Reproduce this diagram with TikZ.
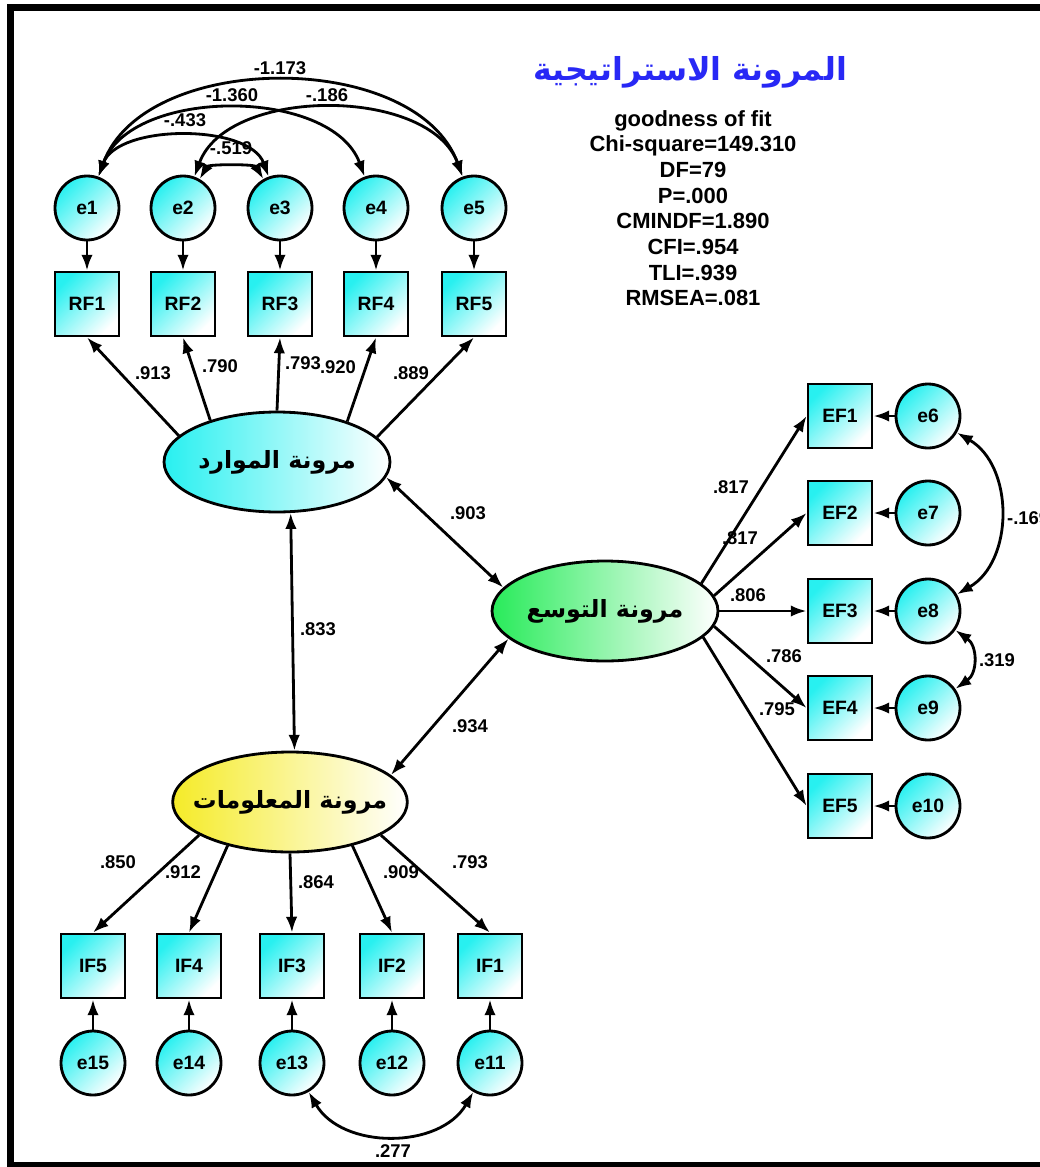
\documentclass[tikz,border=0pt]{standalone}
\usepackage{fontspec}
\setmainfont{Liberation Sans}
\newfontfamily\arabicfont[Script=Arabic]{DejaVu Sans}
\TeXXeTstate=1
\usepackage{tikz}
\usetikzlibrary{shapes.geometric, arrows.meta}
\definecolor{errcyan}{RGB}{40,240,240}
\definecolor{latgreen}{RGB}{40,235,90}
\definecolor{latyellow}{RGB}{245,235,40}
\definecolor{titleblue}{RGB}{40,40,245}
\def\ar#1{{\arabicfont\bfseries\beginR #1\endR}}

\begin{document}
\begin{tikzpicture}[x=0.02cm, y=-0.02cm, line width=1.6pt,
	err/.style={circle, draw, minimum size=1.28cm, inner sep=0pt, top color=errcyan, bottom color=white, shading angle=45, font=\bfseries\fontsize{11}{13}\selectfont},
	obs/.style={rectangle, draw, minimum size=1.28cm, inner sep=0pt, top color=errcyan, bottom color=white, shading angle=45, font=\bfseries\fontsize{11}{13}\selectfont},
	lat/.style={ellipse, draw, minimum width=4.52cm, minimum height=2cm, inner xsep=-8pt, inner ysep=0pt, right color=white, font=\fontsize{13.5}{16}\selectfont},
	val/.style={inner sep=1pt, font=\bfseries\fontsize{10.5}{12}\selectfont},
	arr/.style={-{Latex[length=9pt,width=6.5pt]}},
	cov/.style={{Latex[length=9pt,width=6.5pt]}-{Latex[length=9pt,width=6.5pt]}}]
	\useasboundingbox (0,0) rectangle (1040,1167);
	\draw[line width=4.5pt] (1050,7.5) -- (10.5,7.5) -- (10.5,1166) -- (1050,1166);

	\node[text=titleblue, font=\fontsize{18}{22}\selectfont] (title) at (690,72) {\ar{المرونة الاستراتيجية}};
	\node[anchor=north, align=center, font=\bfseries\fontsize{12.5}{14.6}\selectfont] (fit) at (693,103) {goodness of fit\\Chi-square=149.310\\DF=79\\P=.000\\CMINDF=1.890\\CFI=.954\\TLI=.939\\RMSEA=.081};

	\node[lat, left color=errcyan] (res) at (277,462) {\ar{مرونة الموارد}};
	\node[lat, left color=latgreen] (exp) at (605,611) {\ar{مرونة التوسع}};
	\node[lat, left color=latyellow] (info) at (290,802) {\ar{مرونة المعلومات}};

	\node[err] (e1) at (87,208) {e1};
	\node[err] (e2) at (183,208) {e2};
	\node[err] (e3) at (280,208) {e3};
	\node[err] (e4) at (376,208) {e4};
	\node[err] (e5) at (474,208) {e5};
	\node[obs] (rf1) at (87,304) {RF1};
	\node[obs] (rf2) at (183,304) {RF2};
	\node[obs] (rf3) at (280,304) {RF3};
	\node[obs] (rf4) at (376,304) {RF4};
	\node[obs] (rf5) at (474,304) {RF5};

	\node[obs] (ef1) at (840,416) {EF1};
	\node[obs] (ef2) at (840,513) {EF2};
	\node[obs] (ef3) at (840,611) {EF3};
	\node[obs] (ef4) at (840,708) {EF4};
	\node[obs] (ef5) at (840,806) {EF5};
	\node[err] (e6) at (928,416) {e6};
	\node[err] (e7) at (928,513) {e7};
	\node[err] (e8) at (928,611) {e8};
	\node[err] (e9) at (928,708) {e9};
	\node[err] (e10) at (928,806) {e10};

	\node[obs] (if5) at (93,966) {IF5};
	\node[obs] (if4) at (189,966) {IF4};
	\node[obs] (if3) at (292,966) {IF3};
	\node[obs] (if2) at (392,966) {IF2};
	\node[obs] (if1) at (490,966) {IF1};
	\node[err] (e15) at (93,1063) {e15};
	\node[err] (e14) at (189,1063) {e14};
	\node[err] (e13) at (292,1063) {e13};
	\node[err] (e12) at (392,1063) {e12};
	\node[err] (e11) at (490,1063) {e11};

	\draw[arr] (e1) -- (rf1);
	\draw[arr] (e2) -- (rf2);
	\draw[arr] (e3) -- (rf3);
	\draw[arr] (e4) -- (rf4);
	\draw[arr] (e5) -- (rf5);
	\draw[arr] (res.165) -- (rf1.south);
	\draw[arr] (res.148) -- (rf2.south);
	\draw[arr] (res.90) -- (rf3.south);
	\draw[arr] (res.30) -- (rf4.south);
	\draw[arr] (res.14) -- (rf5.south);

	\draw[arr] (e6) -- (ef1);
	\draw[arr] (e7) -- (ef2);
	\draw[arr] (e8) -- (ef3);
	\draw[arr] (e9) -- (ef4);
	\draw[arr] (e10) -- (ef5);
	\draw[arr] (exp.16) -- (ef1.west);
	\draw[arr] (exp.8) -- (ef2.west);
	\draw[arr] (exp.0) -- (ef3.west);
	\draw[arr] (exp.-8) -- (ef4.west);
	\draw[arr] (exp.-15) -- (ef5.west);

	\draw[arr] (e15) -- (if5);
	\draw[arr] (e14) -- (if4);
	\draw[arr] (e13) -- (if3);
	\draw[arr] (e12) -- (if2);
	\draw[arr] (e11) -- (if1);
	\draw[arr] (info.200) -- (if5.north);
	\draw[arr] (info.215) -- (if4.north);
	\draw[arr] (info.270) -- (if3.north);
	\draw[arr] (info.325) -- (if2.north);
	\draw[arr] (info.340) -- (if1.north);

	\draw[cov] (res.-8) -- (exp.167);
	\draw[cov] (res.-75) -- (info.85);
	\draw[cov] (info.15) -- (exp.196);

	\draw[cov] (e1) to[out=70, in=110, looseness=0.95] (e5);
	\draw[cov] (e1) to[out=70, in=110, looseness=0.92] (e4);
	\draw[cov] (e2) to[out=70, in=110, looseness=0.92] (e5);
	\draw[cov] (e1) to[out=70, in=110, looseness=0.85] (e3);
	\draw[cov] (e2) to[out=60, in=120, looseness=0.7] (e3);
	\draw[cov] (e6) to[out=-30, in=30, looseness=1.05] (e8);
	\draw[cov] (e8) to[out=-35, in=35, looseness=1.2] (e9);
	\draw[cov] (e13) to[out=-60, in=-120, looseness=1.04] (e11);

	\node[val] (c15) at (280,68) {-1.173};
	\node[val] (c14) at (232,95) {-1.360};
	\node[val] (c25) at (327,95) {-.186};
	\node[val] (c13) at (185,120) {-.433};
	\node[val] (c23) at (231,148) {-.519};
	\node[val] (c68) at (1004,518) [anchor=west] {-.169};
	\node[val] (c89) at (997,660) {.319};
	\node[val] (c1311) at (393,1151) {.277};

	\node[val] (l1) at (153,373) {.913};
	\node[val] (l2) at (220,366) {.790};
	\node[val] (l3) at (303,363) {.793};
	\node[val] (l4) at (338,367) {.920};
	\node[val] (l5) at (411,373) {.889};
	\node[val] (l6) at (731,487) {.817};
	\node[val] (l7) at (740,538) {.817};
	\node[val] (l8) at (748,595) {.806};
	\node[val] (l9) at (784,656) {.786};
	\node[val] (l10) at (777,709) {.795};
	\node[val] (l11) at (118,862) {.850};
	\node[val] (l12) at (183,872) {.912};
	\node[val] (l13) at (316,882) {.864};
	\node[val] (l14) at (401,872) {.909};
	\node[val] (l15) at (470,862) {.793};
	\node[val] (l16) at (468,513) {.903};
	\node[val] (l17) at (318,629) {.833};
	\node[val] (l18) at (470,726) {.934};
\end{tikzpicture}
\end{document}
